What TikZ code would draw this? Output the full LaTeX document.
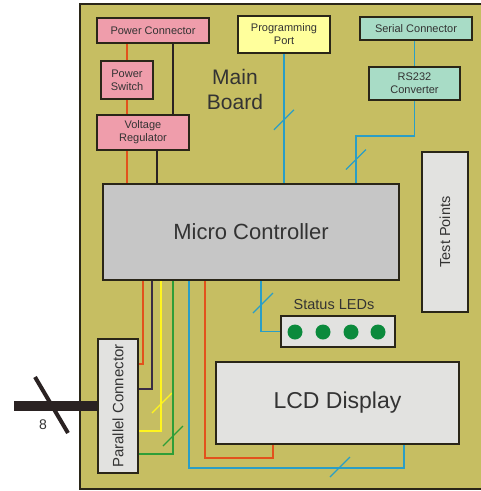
\documentclass[tikz,border=0pt]{standalone}
\usepackage{fontspec}
\setmainfont{Liberation Sans}
\usepackage{xcolor}
\usepackage{tikz}
\usetikzlibrary{calc}
\definecolor{MBboard}{HTML}{C6BE62}
\definecolor{MBedge}{HTML}{2A2618}
\definecolor{MBtext}{HTML}{333333}
\definecolor{MBpink}{HTML}{EF9DAB}
\definecolor{MByellow}{HTML}{FFFF9C}
\definecolor{MBteal}{HTML}{A8DCC6}
\definecolor{MBgrey}{HTML}{C6C6C6}
\definecolor{MBlight}{HTML}{E2E2E0}
\definecolor{MBled}{HTML}{0B8A3C}
\definecolor{MBorange}{HTML}{E2521C}
\definecolor{MBblack}{HTML}{2A2222}
\definecolor{MBpurple}{HTML}{3A2C44}
\definecolor{MBblue}{HTML}{2A9EC6}
\definecolor{MBwireyel}{HTML}{FFF51E}
\definecolor{MBgreen}{HTML}{2E9E38}
\tikzset{
  blockbox/.style={draw=MBedge, line width=2.2pt, align=center, text=MBtext, inner sep=1pt, font=\fontsize{11}{13}\selectfont},
  pinkbox/.style={blockbox, fill=MBpink},
  yelbox/.style={blockbox, fill=MByellow},
  tealbox/.style={blockbox, fill=MBteal},
  greybox/.style={blockbox, fill=MBgrey, font=\fontsize{22}{26}\selectfont},
  lightbox/.style={blockbox, fill=MBlight},
  ledc/.style={circle, fill=MBled, minimum size=15pt, inner sep=0pt},
  wire/.style={line width=1.8pt},
  tick/.style={line width=1.3pt},
  bigtext/.style={text=MBtext, align=center, font=\fontsize{21}{25}\selectfont}
}
\begin{document}
\begin{tikzpicture}[x=1pt, y=-1pt]
  \clip (0,0) rectangle (481,491);
  \fill[white] (0,0) rectangle (481,491);
  % board
  \fill[MBboard] (80,4) rectangle (500,489);
  \draw[MBedge, line width=2.6pt] (500,4) -- (80,4) -- (80,489) -- (500,489);

  % power section
  \node[pinkbox, minimum width=112pt, minimum height=25pt] (pwrcon) at (153,30.5) {Power Connector};
  \node[pinkbox, minimum width=52pt, minimum height=38pt] (pwrsw) at (127,80) {Power\\Switch};
  \node[pinkbox, minimum width=92pt, minimum height=35pt] (vreg) at (143,132.5) {Voltage\\Regulator};
  \node[bigtext] (title) at (235,89) {Main\\Board};

  % ports
  \node[yelbox, minimum width=92pt, minimum height=37pt] (prog) at (284,34.5) {Programming\\Port};
  \node[tealbox, minimum width=112pt, minimum height=23pt] (sercon) at (416,28.5) {Serial Connector};
  \node[tealbox, minimum width=91pt, minimum height=33pt] (rs232) at (414.5,83.5) {RS232\\Converter};

  % main parts
  \node[greybox, minimum width=296pt, minimum height=96pt] (mc) at (251,232) {Micro Controller};
  \node[lightbox, minimum width=46pt, minimum height=160pt] (tp) at (445,232) {};
  \node[rotate=90, text=MBtext, font=\fontsize{14.5}{16}\selectfont] (tplabel) at (tp) {Test Points};
  \node[lightbox, minimum width=114pt, minimum height=31pt] (leds) at (338,331.5) {};
  \node[text=MBtext, font=\fontsize{14.5}{16}\selectfont] (ledlabel) at (334,305) {Status LEDs};
  \foreach \i/\x in {1/295,2/323,3/351,4/378}
    \node[ledc] (led\i) at (\x,332) {};
  \node[lightbox, minimum width=243pt, minimum height=82pt, font=\fontsize{23}{26}\selectfont] (lcd) at (337.5,403) {LCD Display};
  \node[lightbox, minimum width=40pt, minimum height=134pt] (par) at (118,406) {};
  \node[rotate=90, text=MBtext, font=\fontsize{15}{17}\selectfont] (parlabel) at (par) {Parallel Connector};

  % power wires
  \draw[wire, MBorange] (pwrsw.north |- pwrcon.south) -- (pwrsw.north);
  \draw[wire, MBorange] (pwrsw.south) -- (pwrsw.south |- vreg.north);
  \draw[wire, MBorange] (pwrsw.south |- vreg.south) -- (pwrsw.south |- mc.north);
  \draw[wire, MBblack] ([xshift=20pt]pwrcon.south) -- ([xshift=20pt]pwrcon.south |- vreg.north);
  \draw[wire, MBblack] ([xshift=14pt]vreg.south) -- ([xshift=14pt]vreg.south |- mc.north);

  % serial and programming
  \draw[wire, MBblue] (prog.south) -- coordinate[pos=0.51] (s1) (prog.south |- mc.north);
  \draw[tick, MBblue] (s1) +(-10,10) -- +(10,-10);
  \draw[wire, MBblue] (sercon.south -| rs232.north) -- (rs232.north);
  \draw[wire, MBblue] (rs232.south) -- ++(0,35) -| coordinate[pos=0.75] (s2) ([xshift=105pt]mc.north);
  \draw[tick, MBblue] (s2) +(-10,10) -- +(10,-10);

  % parallel port wires
  \draw[wire, MBorange] ([xshift=-108pt]mc.south) |- ([yshift=42pt]par.east);
  \draw[wire, MBpurple] ([xshift=-99pt]mc.south) |- ([yshift=17pt]par.east);
  \draw[wire, MBwireyel] ([xshift=-90pt]mc.south) |- coordinate[pos=0.4] (s3) ([yshift=-25pt]par.east);
  \draw[tick, MBwireyel] (162,403) +(-10,10) -- +(10,-10);
  \draw[wire, MBgreen] ([xshift=-78pt]mc.south) |- ([yshift=-48pt]par.east);
  \draw[tick, MBgreen] (173,436) +(-10,10) -- +(10,-10);

  % display and leds
  \draw[wire, MBblue] ([xshift=-62pt]mc.south) -- ++(0,187) -| ([xshift=66.5pt]lcd.south);
  \draw[tick, MBblue] (340,467) +(-10,10) -- +(10,-10);
  \draw[wire, MBorange] ([xshift=-46pt]mc.south) -- ++(0,177) -| ([xshift=-64.5pt]lcd.south);
  \draw[wire, MBblue] ([xshift=10pt]mc.south) |- (leds.west);
  \draw[tick, MBblue] (263,303) +(-10,10) -- +(10,-10);

  % external bus
  \coordinate (busend) at (14,406);
  \draw[MBblack, line width=10pt] (par.west) -- (busend);
  \draw[MBblack, line width=4pt] (51.5,405) +(-16.5,-28) -- +(16.5,28);
  \node[text=MBtext, font=\fontsize{14}{16}\selectfont] (buswidth) at (43,425) {8};
\end{tikzpicture}
\end{document}
